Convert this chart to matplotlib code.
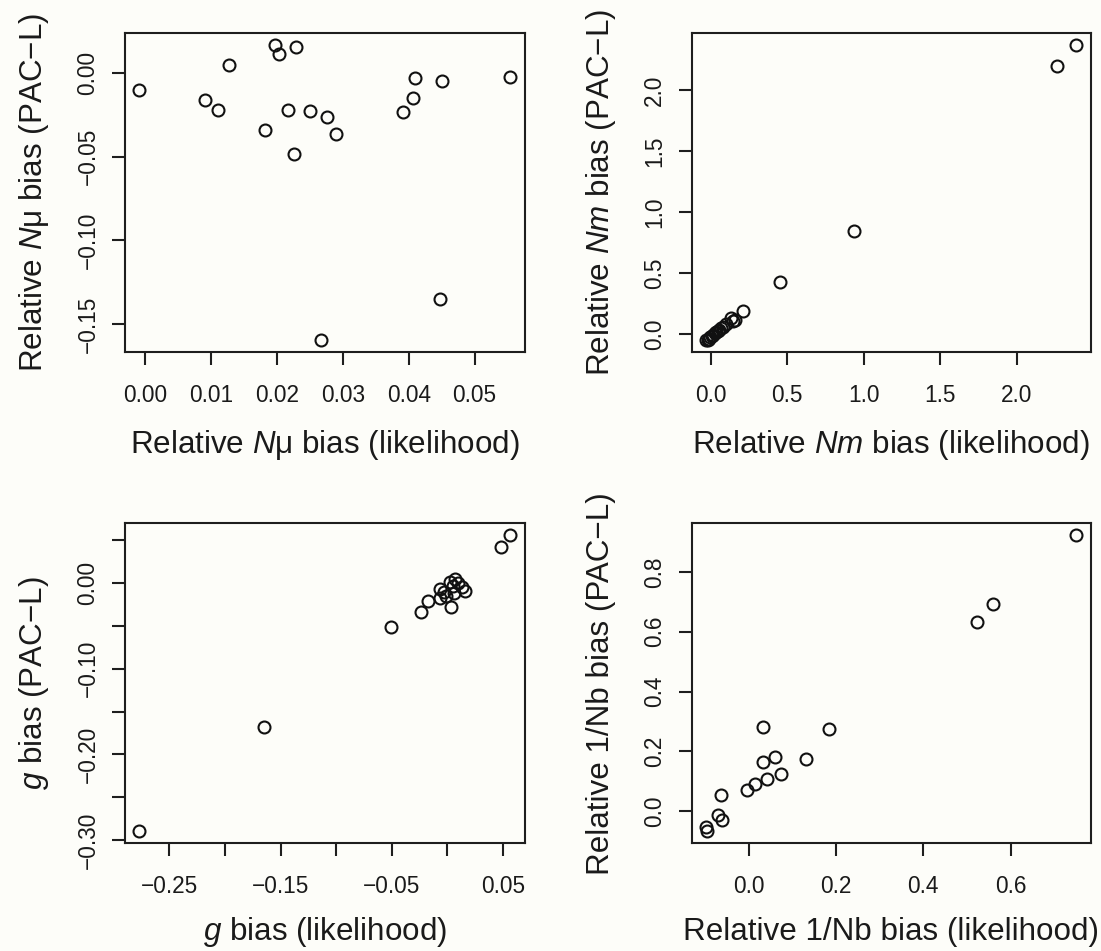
import matplotlib
matplotlib.use('Agg')
import matplotlib.pyplot as plt
from matplotlib.ticker import FixedLocator, FixedFormatter

plt.rcParams['font.family'] = ['Liberation Sans', 'DejaVu Sans']
plt.rcParams['mathtext.fontset'] = 'custom'
plt.rcParams['mathtext.it'] = 'Liberation Sans:italic'
plt.rcParams['mathtext.rm'] = 'Liberation Sans'
plt.rcParams['axes.unicode_minus'] = True

# ---- data ----
nmu_lik = [-0.0009, 0.0091, 0.0111, 0.0127, 0.0181, 0.0197, 0.0203, 0.0229, 0.0216, 0.0225,
           0.0250, 0.0266, 0.0276, 0.0289, 0.0391, 0.0406, 0.0410, 0.0450, 0.0448, 0.0554]
nmu_pac = [-0.0103, -0.0163, -0.0221, 0.0044, -0.0342, 0.0169, 0.0115, 0.0157, -0.0223, -0.0483,
           -0.0230, -0.1599, -0.0264, -0.0366, -0.0234, -0.0153, -0.0028, -0.0050, -0.1351, -0.0022]

nm_lik = [-0.030, -0.022, -0.012, -0.004, 0.005, 0.014, 0.024, 0.034, 0.044, 0.055, 0.066,
          0.080, 0.100, 0.133, 0.145, 0.160, 0.213, 0.451, 0.938, 2.261, 2.389]
nm_pac = [-0.050, -0.045, -0.035, -0.024, -0.012, -0.002, 0.008, 0.018, 0.028, 0.038, 0.048,
          0.060, 0.088, 0.131, 0.108, 0.118, 0.194, 0.431, 0.849, 2.199, 2.374]

g_lik = [-0.2770, -0.1647, -0.0504, -0.0232, -0.0174, -0.0065, -0.0065, -0.0033, -0.0011, 0.0027,
         0.0031, 0.0053, 0.0069, 0.0059, 0.0100, 0.0137, 0.0160, 0.0480, 0.0567]
g_pac = [-0.2898, -0.1682, -0.0513, -0.0342, -0.0214, -0.0074, -0.0179, -0.0101, -0.0152, 0.0012,
         -0.0287, -0.0035, 0.0043, -0.0113, -0.0004, -0.0050, -0.0093, 0.0416, 0.0556]

nb_lik = [0.7506, 0.559, 0.524, 0.1834, 0.0338, 0.132, 0.0603, 0.0338, 0.074, 0.041, 0.0137,
          -0.004, -0.0636, -0.0708, -0.0611, -0.0973, -0.0957]
nb_pac = [0.923, 0.693, 0.634, 0.2734, 0.280, 0.173, 0.182, 0.163, 0.125, 0.106, 0.0893,
          0.0714, 0.0547, -0.0123, -0.029, -0.052, -0.068]

# tick values and labels
p1_xt = [0.00, 0.01, 0.02, 0.03, 0.04, 0.05]
p1_xl = ['0.00', '0.01', '0.02', '0.03', '0.04', '0.05']
p1_yt = [0.00, -0.05, -0.10, -0.15]
p1_yl = ['0.00', '\u22120.05', '\u22120.10', '\u22120.15']

p2_xt = [0.0, 0.5, 1.0, 1.5, 2.0]
p2_xl = ['0.0', '0.5', '1.0', '1.5', '2.0']
p2_yt = [0.0, 0.5, 1.0, 1.5, 2.0]
p2_yl = ['0.0', '0.5', '1.0', '1.5', '2.0']

p3_xt = [-0.25, -0.20, -0.15, -0.10, -0.05, 0.00, 0.05]
p3_xl = ['\u22120.25', '', '\u22120.15', '', '\u22120.05', '', '0.05']
p3_yt = [0.05, 0.00, -0.05, -0.10, -0.15, -0.20, -0.25, -0.30]
p3_yl = ['', '0.00', '', '\u22120.10', '', '\u22120.20', '', '\u22120.30']

p4_xt = [0.0, 0.2, 0.4, 0.6]
p4_xl = ['0.0', '0.2', '0.4', '0.6']
p4_yt = [0.0, 0.2, 0.4, 0.6, 0.8]
p4_yl = ['0.0', '0.2', '0.4', '0.6', '0.8']

labels = [
    (r'Relative $N$μ bias (likelihood)', 'Relative $N$μ bias (PAC\u2212L)'),
    (r'Relative $Nm$ bias (likelihood)', 'Relative $Nm$ bias (PAC\u2212L)'),
    (r'$g$ bias (likelihood)', '$g$ bias (PAC\u2212L)'),
    ('Relative 1/Nb bias (likelihood)', 'Relative 1/Nb bias (PAC\u2212L)'),
]

W, H = 1101, 951
BG = '#fdfdf9'
fig = plt.figure(figsize=(W / 100, H / 100), dpi=100, facecolor=BG)


def rect(l, t, w, h):
    return [l / W, 1 - (t + h) / H, w / W, h / H]


rects = [rect(124.6, 32.7, 400.4, 319.6), rect(691.5, 32.7, 399.5, 319.6),
         rect(124.6, 523.3, 400.4, 320.0), rect(691.5, 523.3, 399.5, 320.0)]
xlab_off = [93.0, 93.0, 88.5, 88.5]

panels = [
    (nmu_lik, nmu_pac, p1_xt, p1_xl, p1_yt, p1_yl),
    (nm_lik, nm_pac, p2_xt, p2_xl, p2_yt, p2_yl),
    (g_lik, g_pac, p3_xt, p3_xl, p3_yt, p3_yl),
    (nb_lik, nb_pac, p4_xt, p4_xl, p4_yt, p4_yl),
]


def rlim(v):
    lo, hi = min(v), max(v)
    d = (hi - lo) * 0.04
    return lo - d, hi + d


TICK_FS = 16.3
LAB_FS = 22.6
LC = '#1e1e1e'

for r, (x, y, xt, xl, yt, yl), (xlab, ylab), xo in zip(rects, panels, labels, xlab_off):
    ax = fig.add_axes(r, facecolor=BG)
    ax.plot(x, y, linestyle='none', marker='o', markersize=8.6,
            markerfacecolor='none', markeredgecolor='#111111', markeredgewidth=1.5)
    ax.set_xlim(*rlim(x))
    ax.set_ylim(*rlim(y))
    ax.xaxis.set_major_locator(FixedLocator(xt))
    ax.xaxis.set_major_formatter(FixedFormatter(xl))
    ax.yaxis.set_major_locator(FixedLocator(yt))
    ax.yaxis.set_major_formatter(FixedFormatter(yl))
    for s in ax.spines.values():
        s.set_linewidth(1.5)
        s.set_color(LC)
    ax.tick_params(axis='both', direction='out', length=9.6, width=1.5, color=LC,
                   labelsize=TICK_FS, labelcolor='#1a1a1a')
    ax.tick_params(axis='x', pad=13.0)
    ax.tick_params(axis='y', pad=8.5)
    for t in ax.get_yticklabels():
        t.set_rotation(90)
        t.set_va('center')
    ax.set_xlabel(xlab, fontsize=LAB_FS, color='#1a1a1a', va='center')
    ax.xaxis.set_label_coords(0.5, -xo / (r[3] * H))
    ax.set_ylabel(ylab, fontsize=LAB_FS, color='#1a1a1a', va='center')
    ax.yaxis.set_label_coords(-91.0 / (r[2] * W), 0.5)

fig.savefig('out.png', dpi=100, facecolor=BG)
